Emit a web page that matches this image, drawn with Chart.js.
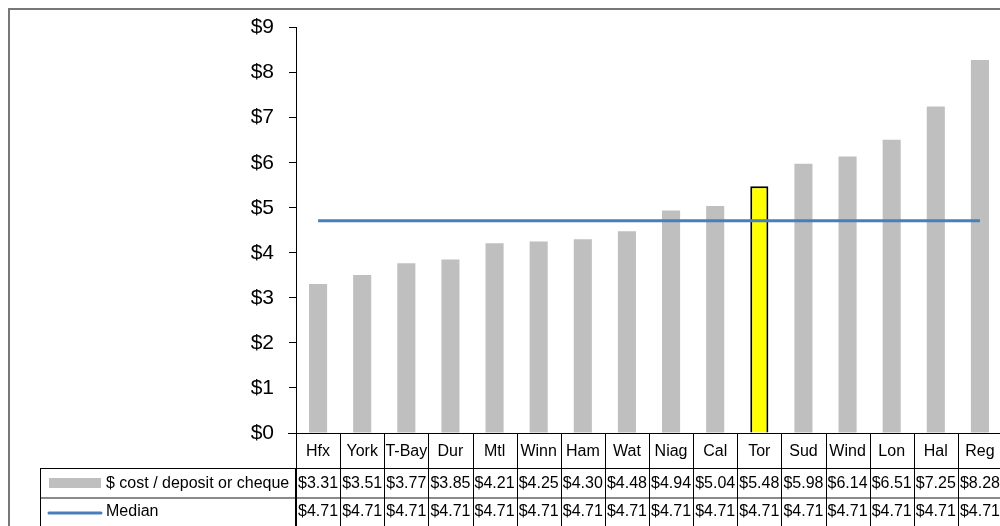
<!DOCTYPE html>
<html>
<head>
<meta charset="utf-8">
<script src="https://cdn.jsdelivr.net/npm/chart.js@4/dist/chart.umd.min.js"></script>
<style>
    html, body { margin: 0; padding: 0; background: #fff; overflow: hidden; }
    #wrap { width: 1010px; height: 526px; }
</style>
</head>
<body>
<div id="wrap"><canvas id="costChart" width="1010" height="526"></canvas></div>
<script>
const categories = ['Hfx', 'York', 'T-Bay', 'Dur', 'Mtl', 'Winn', 'Ham', 'Wat', 'Niag', 'Cal', 'Tor', 'Sud', 'Wind', 'Lon', 'Hal', 'Reg'];
const costValues = [3.31, 3.51, 3.77, 3.85, 4.21, 4.25, 4.30, 4.48, 4.94, 5.04, 5.48, 5.98, 6.14, 6.51, 7.25, 8.28];
const medianValues = [4.71, 4.71, 4.71, 4.71, 4.71, 4.71, 4.71, 4.71, 4.71, 4.71, 4.71, 4.71, 4.71, 4.71, 4.71, 4.71];
const yTicks = [0, 1, 2, 3, 4, 5, 6, 7, 8, 9];
const costLabel = '$ cost / deposit or cheque';
const medianLabel = 'Median';
const highlight = 'Tor';

const FONT = "'Liberation Sans', Arial, sans-serif";
const COLORS = {
    bar: '#BFBFBF',
    hi: '#FFFF00',
    median: '#4A7EBB',
    frame: '#777777'
};

// 表头行 / 数据行的位置
const TABLE = { top: 433, row1: 468, row2: 498, bottom: 540, legendLeft: 40 };

const money = v => '$' + v.toFixed(2);

const dataTablePlugin = {
    id: 'dataTable',
    afterDraw(chart) {
        const ctx = chart.ctx;
        const x = chart.scales.x;
        const area = chart.chartArea;
        const colW = (area.right - area.left) / categories.length;

        ctx.save();
        // 外框
        ctx.strokeStyle = COLORS.frame;
        ctx.lineWidth = 2;
        ctx.beginPath();
        ctx.moveTo(9, 540);
        ctx.lineTo(9, 9);
        ctx.lineTo(1010, 9);
        ctx.stroke();

        // 横线
        ctx.strokeStyle = '#000';
        ctx.lineWidth = 1;
        ctx.beginPath();
        ctx.moveTo(area.left - 8, TABLE.top + 0.5);
        ctx.lineTo(area.right, TABLE.top + 0.5);
        ctx.moveTo(TABLE.legendLeft, TABLE.row1 + 0.5);
        ctx.lineTo(area.right, TABLE.row1 + 0.5);
        ctx.stroke();
        ctx.strokeStyle = '#8a8a8a';
        ctx.lineWidth = 2;
        ctx.beginPath();
        ctx.moveTo(TABLE.legendLeft, TABLE.row2);
        ctx.lineTo(area.right, TABLE.row2);
        ctx.stroke();

        // 竖线
        ctx.strokeStyle = '#000';
        ctx.lineWidth = 1;
        ctx.beginPath();
        ctx.moveTo(TABLE.legendLeft + 0.5, TABLE.row1);
        ctx.lineTo(TABLE.legendLeft + 0.5, TABLE.bottom);
        categories.forEach((c, i) => {
            const bx = Math.round(x.getPixelForValue(i) - colW / 2) + 0.5;
            ctx.moveTo(bx, TABLE.top);
            ctx.lineTo(bx, TABLE.bottom);
        });
        const rx = Math.round(area.right) - 0.5;
        ctx.moveTo(rx, TABLE.top);
        ctx.lineTo(rx, TABLE.bottom);
        ctx.stroke();
        // 轴线加粗
        ctx.lineWidth = 2;
        ctx.beginPath();
        ctx.moveTo(area.left, TABLE.row1);
        ctx.lineTo(area.left, TABLE.bottom);
        ctx.stroke();

        // 文字
        ctx.fillStyle = '#000';
        ctx.font = '16px ' + FONT;
        ctx.textAlign = 'center';
        ctx.textBaseline = 'middle';
        categories.forEach((c, i) => {
            const cx = x.getPixelForValue(i);
            ctx.fillText(c, cx, (TABLE.top + TABLE.row1) / 2 + 1);
            ctx.fillText(money(costValues[i]), cx, (TABLE.row1 + TABLE.row2) / 2 + 1);
            ctx.fillText(money(medianValues[i]), cx, 512);
        });

        // 图例
        ctx.fillStyle = COLORS.bar;
        ctx.fillRect(49, 478, 52, 10);
        ctx.strokeStyle = COLORS.median;
        ctx.lineWidth = 3;
        ctx.lineCap = 'round';
        ctx.beginPath();
        ctx.moveTo(49, 513);
        ctx.lineTo(101, 513);
        ctx.stroke();
        ctx.fillStyle = '#000';
        ctx.textAlign = 'left';
        ctx.fillText(costLabel, 106, (TABLE.row1 + TABLE.row2) / 2 + 1);
        ctx.fillText(medianLabel, 106, 512);
        ctx.restore();
    }
};

const ctx = document.getElementById('costChart').getContext('2d');
new Chart(ctx, {
    type: 'bar',
    data: {
        labels: categories,
        datasets: [{
            type: 'line',
            label: medianLabel,
            data: medianValues,
            borderColor: COLORS.median,
            borderWidth: 3,
            pointRadius: 0,
            fill: false,
            order: 0
        }, {
            label: costLabel,
            data: costValues,
            backgroundColor: categories.map(c => c === highlight ? COLORS.hi : COLORS.bar),
            borderColor: categories.map(c => c === highlight ? '#000' : COLORS.bar),
            borderWidth: categories.map(c => c === highlight ? 2 : 0),
            barPercentage: 0.41,
            categoryPercentage: 1,
            order: 1
        }]
    },
    options: {
        responsive: false,
        animation: false,
        layout: { padding: { top: 24, left: 0, right: 8, bottom: 93 } },
        plugins: { legend: { display: false }, tooltip: { enabled: false } },
        scales: {
            x: { display: false },
            y: {
                min: 0,
                max: 9,
                afterFit(scale) { scale.width = 296; },
                afterBuildTicks(scale) { scale.ticks = yTicks.map(v => ({ value: v })); },
                ticks: {
                    callback: v => '$' + v,
                    color: '#000',
                    padding: 15,
                    font: { size: 21, family: FONT }
                },
                grid: { drawOnChartArea: false, drawTicks: true, tickLength: 7, tickColor: '#000' },
                border: { display: true, color: '#000', width: 1 }
            }
        }
    },
    plugins: [dataTablePlugin]
});
</script>
</body>
</html>
